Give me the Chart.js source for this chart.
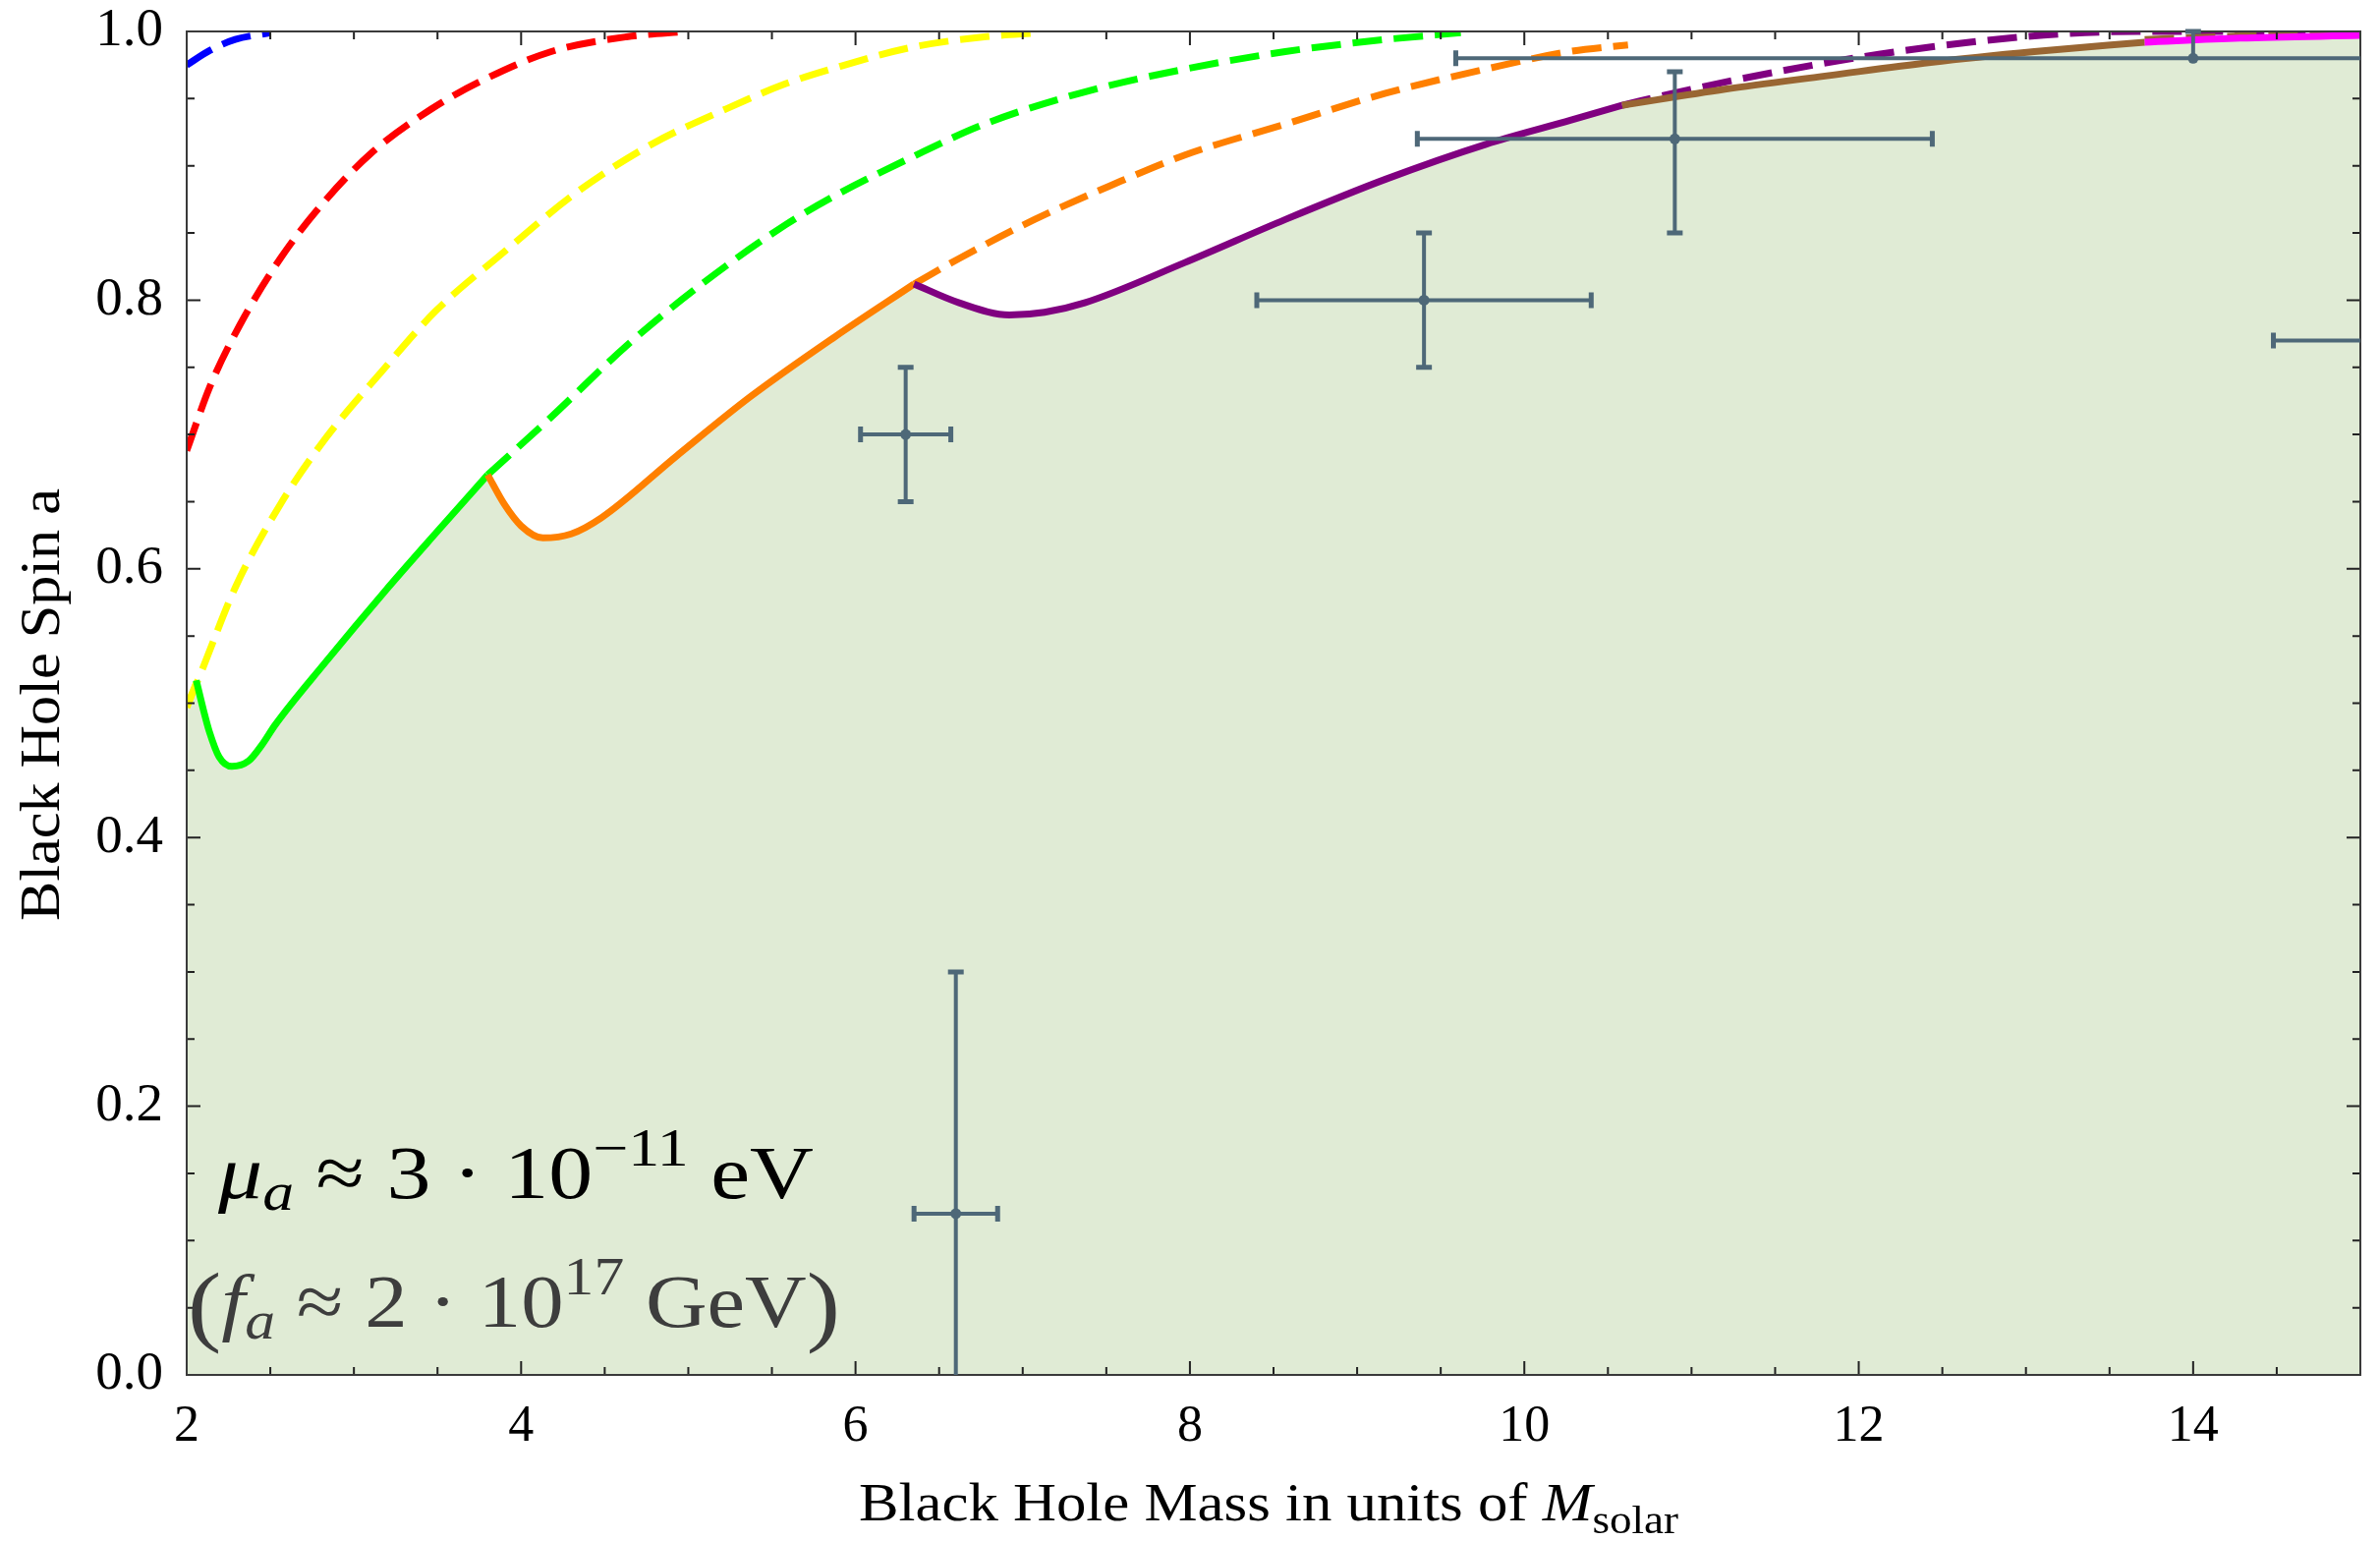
<!DOCTYPE html>
<html lang="en">
<head>
    <meta charset="UTF-8">
    <title>Black hole spin vs mass</title>
    <script src="https://cdn.jsdelivr.net/npm/chart.js"></script>
    <style>
        body {
            margin: 0;
            background: #fff;
        }

        canvas {
            display: block;
        }
    </style>
</head>
<body>
    <canvas id="spinChart" width="2422" height="1568"></canvas>

    <script>
        // axis ticks
        const xTicks = [2, 4, 6, 8, 10, 12, 14];
        const yTicks = [0, 0.2, 0.4, 0.6, 0.8, 1.0];

        // curves (mass in Msolar, spin a)
        const blueDashX = [2.0, 2.14, 2.29, 2.5];
        const blueDashY = [0.975, 0.986, 0.994, 0.999];

        const redDashX = [2.0, 2.14, 2.32, 2.56, 2.80, 3.10, 3.46, 3.76, 4.18, 4.63, 5.0];
        const redDashY = [0.688, 0.736, 0.782, 0.831, 0.870, 0.909, 0.942, 0.963, 0.985, 0.996, 1.0];

        const yellowDashX = [2.0, 2.08, 2.29, 2.56, 2.83, 3.16, 3.49, 3.88, 4.33, 4.78, 5.22, 5.58, 5.88, 6.33, 6.77, 7.1];
        const yellowDashY = [0.497, 0.521, 0.586, 0.648, 0.697, 0.746, 0.792, 0.834, 0.880, 0.916, 0.942, 0.961, 0.973, 0.988, 0.996, 0.999];
        const yellowSolidX = [2.0, 2.057];
        const yellowSolidY = [0.497, 0.515];

        const greenSolidX = [2.057, 2.10, 2.135, 2.194, 2.27, 2.37, 2.45, 2.53, 2.82, 3.19, 3.5, 3.80];
        const greenSolidY = [0.517, 0.495, 0.479, 0.460, 0.453, 0.457, 0.469, 0.484, 0.529, 0.584, 0.628, 0.670];
        const greenDashX = [3.80, 4.18, 4.63, 5.07, 5.58, 5.88, 6.33, 6.77, 7.37, 7.97, 8.57, 9.17, 9.62];
        const greenDashY = [0.670, 0.713, 0.766, 0.811, 0.856, 0.878, 0.906, 0.931, 0.955, 0.972, 0.985, 0.994, 0.999];

        const orangeSolidX = [3.80, 3.90, 4.0, 4.13, 4.30, 4.48, 4.93, 5.37, 5.88, 6.35];
        const orangeSolidY = [0.670, 0.648, 0.632, 0.623, 0.626, 0.638, 0.684, 0.728, 0.773, 0.812];
        const orangeDashX = [6.35, 6.62, 7.07, 7.52, 7.97, 8.57, 9.17, 9.77, 10.27, 10.62];
        const orangeDashY = [0.812, 0.831, 0.860, 0.885, 0.908, 0.931, 0.954, 0.972, 0.985, 0.990];

        const purpleSolidX = [6.35, 6.62, 6.92, 7.13, 7.37, 7.97, 8.57, 9.17, 9.77, 10.28, 10.585];
        const purpleSolidY = [0.812, 0.798, 0.789, 0.791, 0.798, 0.828, 0.860, 0.890, 0.916, 0.934, 0.945];
        const purpleDashX = [10.585, 10.89, 11.51, 12.12, 12.74, 13.2, 13.67, 14.3, 15.0];
        const purpleDashY = [0.945, 0.954, 0.970, 0.983, 0.993, 0.998, 1.0, 1.0, 1.0];

        const brownSolidX = [10.585, 11.20, 11.81, 12.43, 13.05, 13.71];
        const brownSolidY = [0.945, 0.957, 0.967, 0.977, 0.985, 0.992];
        const brownDashX = [13.71, 14.35, 15.0];
        const brownDashY = [0.994, 0.997, 0.999];

        const magentaSolidX = [13.71, 14.28, 15.0];
        const magentaSolidY = [0.992, 0.995, 0.997];

        // measured black holes with error bars
        const bhMass = [6.3, 6.6, 9.4, 10.9, 14.0, 16.0];
        const bhMassLo = [0.27, 0.25, 1.0, 1.54, 4.41, 1.52];
        const bhMassHi = [0.27, 0.25, 1.0, 1.54, 4.41, 1.52];
        const bhSpin = [0.70, 0.12, 0.80, 0.92, 0.98, 0.77];
        const bhSpinLo = [0.05, 0.18, 0.05, 0.07, 0, 0.03];
        const bhSpinHi = [0.05, 0.18, 0.05, 0.05, 0.02, 0.03];

        const SERIF = "'Liberation Serif', 'DejaVu Serif', serif";
        const FILL = '#e0ebd5';
        const BAR = '#4e6878';

        Chart.defaults.font.family = SERIF;

        function pts(xs, ys) {
            return xs.map((x, i) => ({ x: x, y: ys[i] }));
        }

        function curve(xs, ys, color, dashed) {
            return {
                data: pts(xs, ys),
                showLine: true,
                borderColor: color,
                borderWidth: 7,
                borderDash: dashed ? [30, 12] : [],
                pointRadius: 0,
                cubicInterpolationMode: 'monotone',
                fill: false,
                clip: 0
            };
        }

        // the allowed region: one shaded area under the solid pieces
        const envelope = pts(yellowSolidX, yellowSolidY)
            .concat(pts(greenSolidX, greenSolidY).slice(1))
            .concat(pts(orangeSolidX, orangeSolidY).slice(1))
            .concat(pts(purpleSolidX, purpleSolidY).slice(1))
            .concat(pts(brownSolidX, brownSolidY).slice(1))
            .concat(pts(magentaSolidX, magentaSolidY).slice(1));

        // ticks inside the frame on all four sides, like the original
        const framePlugin = {
            id: 'frame',
            afterDatasetsDraw(chart) {
                const { ctx, chartArea: a, scales: { x, y } } = chart;
                ctx.save();
                ctx.strokeStyle = '#222';
                ctx.lineWidth = 2;
                for (let v = 2; v <= 15.001; v += 0.5) {
                    const px = x.getPixelForValue(v);
                    const len = Math.abs(v % 2) < 0.01 ? 14 : 8;
                    ctx.beginPath();
                    ctx.moveTo(px, a.bottom); ctx.lineTo(px, a.bottom - len);
                    ctx.moveTo(px, a.top); ctx.lineTo(px, a.top + len);
                    ctx.stroke();
                }
                for (let k = 0; k <= 20; k++) {
                    const py = y.getPixelForValue(k * 0.05);
                    const len = k % 4 === 0 ? 14 : 8;
                    ctx.beginPath();
                    ctx.moveTo(a.left, py); ctx.lineTo(a.left + len, py);
                    ctx.moveTo(a.right, py); ctx.lineTo(a.right - len, py);
                    ctx.stroke();
                }
                ctx.strokeStyle = '#3a3a3a';
                ctx.strokeRect(a.left, a.top, a.right - a.left, a.bottom - a.top);
                ctx.restore();
            }
        };

        const errorBarPlugin = {
            id: 'errorBars',
            afterDatasetsDraw(chart) {
                const { ctx, chartArea: a, scales: { x, y } } = chart;
                ctx.save();
                ctx.beginPath();
                ctx.rect(a.left, a.top - 4, a.right - a.left, a.bottom - a.top + 4);
                ctx.clip();
                ctx.strokeStyle = BAR;
                ctx.fillStyle = BAR;
                const cap = 8;
                bhMass.forEach((m, i) => {
                    const cx = x.getPixelForValue(m);
                    const cy = y.getPixelForValue(bhSpin[i]);
                    const x0 = x.getPixelForValue(m - bhMassLo[i]);
                    const x1 = x.getPixelForValue(m + bhMassHi[i]);
                    const y0 = y.getPixelForValue(bhSpin[i] - bhSpinLo[i]);
                    const y1 = y.getPixelForValue(bhSpin[i] + bhSpinHi[i]);
                    ctx.lineWidth = 4;
                    ctx.beginPath();
                    ctx.moveTo(x0, cy); ctx.lineTo(x1, cy);
                    ctx.moveTo(cx, y0); ctx.lineTo(cx, y1);
                    ctx.stroke();
                    ctx.lineWidth = 5;
                    ctx.beginPath();
                    ctx.moveTo(x0, cy - cap); ctx.lineTo(x0, cy + cap);
                    ctx.moveTo(x1, cy - cap); ctx.lineTo(x1, cy + cap);
                    ctx.moveTo(cx - cap, y1); ctx.lineTo(cx + cap, y1);
                    if (bhSpinLo[i] > 0) {
                        ctx.moveTo(cx - cap, y0); ctx.lineTo(cx + cap, y0);
                    }
                    ctx.stroke();
                    ctx.beginPath();
                    ctx.arc(cx, cy, 5.5, 0, Math.PI * 2);
                    ctx.fill();
                });
                ctx.restore();
            }
        };

        // draws a run of text pieces (sub/superscripts), fitted to a width
        function drawRich(ctx, pieces, x, base, width, color) {
            let w = 0;
            pieces.forEach(p => {
                ctx.font = p.f;
                p.w = ctx.measureText(p.t).width;
                w += p.w;
            });
            ctx.save();
            ctx.fillStyle = color;
            ctx.textBaseline = 'alphabetic';
            ctx.translate(x, base);
            ctx.scale(width ? width / w : 1, 1);
            let cx = 0;
            pieces.forEach(p => {
                ctx.font = p.f;
                ctx.fillText(p.t, cx, p.dy || 0);
                cx += p.w;
            });
            ctx.restore();
        }

        const textPlugin = {
            id: 'texts',
            afterDraw(chart) {
                const ctx = chart.ctx;
                const big = '76px ' + SERIF;
                const bigI = 'italic 76px ' + SERIF;
                const small = '54px ' + SERIF;
                const smallI = 'italic 54px ' + SERIF;
                drawRich(ctx, [
                    { t: 'μ', f: bigI },
                    { t: 'a', f: smallI, dy: 12 },
                    { t: ' ≈ 3 · 10', f: big },
                    { t: '−11', f: small, dy: -33 },
                    { t: ' eV', f: big }
                ], 222, 1219, 606, '#000');
                drawRich(ctx, [
                    { t: '(', f: '90px ' + SERIF, dy: 8 },
                    { t: 'f', f: bigI },
                    { t: 'a', f: smallI, dy: 12 },
                    { t: ' ≈ 2 · 10', f: big },
                    { t: '17', f: small, dy: -33 },
                    { t: ' GeV', f: big },
                    { t: ')', f: '90px ' + SERIF, dy: 8 }
                ], 191, 1350, 664, '#3d3d3d');
                // x axis title with subscript
                drawRich(ctx, [
                    { t: 'Black Hole Mass in units of ', f: '54px ' + SERIF },
                    { t: 'M', f: 'italic 54px ' + SERIF },
                    { t: 'solar', f: '40px ' + SERIF, dy: 13 }
                ], 874, 1547, 834, '#000');
                // y axis title, rotated
                ctx.save();
                ctx.translate(60, 937);
                ctx.rotate(-Math.PI / 2);
                drawRich(ctx, [{ t: 'Black Hole Spin a', f: '57px ' + SERIF }], 0, 0, 440, '#000');
                ctx.restore();
            }
        };

        new Chart(document.getElementById('spinChart'), {
            type: 'scatter',
            data: {
                datasets: [
                    curve(magentaSolidX, magentaSolidY, '#ff00ff', false),
                    curve(brownSolidX, brownSolidY, '#996633', false),
                    curve(brownDashX, brownDashY, '#996633', true),
                    curve(purpleDashX, purpleDashY, '#800080', true),
                    curve(purpleSolidX, purpleSolidY, '#800080', false),
                    curve(orangeDashX, orangeDashY, '#ff8000', true),
                    curve(orangeSolidX, orangeSolidY, '#ff8000', false),
                    curve(greenDashX, greenDashY, '#00ff00', true),
                    curve(greenSolidX, greenSolidY, '#00ff00', false),
                    curve(yellowSolidX, yellowSolidY, '#ffff00', false),
                    curve(yellowDashX, yellowDashY, '#ffff00', true),
                    curve(redDashX, redDashY, '#ff0000', true),
                    curve(blueDashX, blueDashY, '#0000ff', true),
                    {
                        data: envelope,
                        showLine: true,
                        borderWidth: 0,
                        pointRadius: 0,
                        tension: 0,
                        fill: 'origin',
                        backgroundColor: FILL,
                        clip: 0
                    }
                ]
            },
            options: {
                responsive: false,
                animation: false,
                layout: { padding: { top: 32, right: 20, left: 0, bottom: 0 } },
                plugins: {
                    legend: { display: false },
                    tooltip: { enabled: false },
                    filler: { drawTime: 'beforeDatasetsDraw' }
                },
                scales: {
                    x: {
                        type: 'linear',
                        min: 2,
                        max: 15,
                        afterBuildTicks: s => { s.ticks = xTicks.map(v => ({ value: v })); },
                        afterFit: s => { s.height = 169; s.paddingLeft = 0; s.paddingRight = 0; },
                        grid: { display: false, drawTicks: false },
                        border: { display: false },
                        ticks: { font: { size: 52 }, color: '#000', padding: 22, autoSkip: false, maxRotation: 0 }
                    },
                    y: {
                        min: 0,
                        max: 1,
                        afterBuildTicks: s => { s.ticks = yTicks.map(v => ({ value: v })); },
                        afterFit: s => { s.width = 190; s.paddingTop = 0; s.paddingBottom = 0; },
                        grid: { display: false, drawTicks: false },
                        border: { display: false },
                        ticks: {
                            font: { size: 55 },
                            color: '#000',
                            padding: 24,
                            autoSkip: false,
                            callback: v => v.toFixed(1)
                        }
                    }
                }
            },
            plugins: [framePlugin, errorBarPlugin, textPlugin]
        });
    </script>
</body>
</html>
